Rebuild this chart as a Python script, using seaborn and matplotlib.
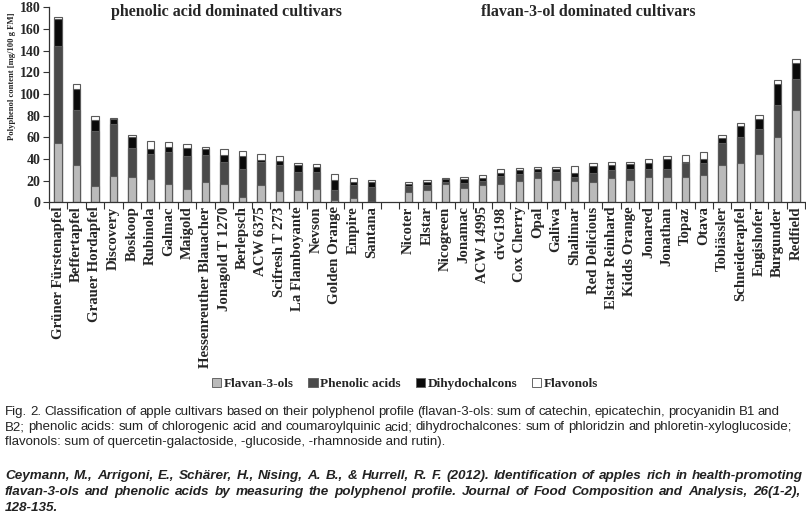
import matplotlib
matplotlib.use("Agg")
import matplotlib.pyplot as plt
from matplotlib.patches import Patch
import seaborn as sns
import pandas as pd
import numpy as np

left_cultivars = ["Grüner Fürstenapfel", "Beffertapfel", "Grauer Hordapfel", "Discovery", "Boskoop",
                  "Rubinola", "Galmac", "Maigold", "Hessenreuther Blauacher", "Jonagold T 1270",
                  "Berlepsch", "ACW 6375", "Scifresh T 273", "La Flamboyante", "Nevson",
                  "Golden Orange", "Empire", "Santana"]
right_cultivars = ["Nicoter", "Elstar", "Nicogreen", "Jonamac", "ACW 14995", "civG198", "Cox Cherry",
                   "Opal", "Galiwa", "Shalimar", "Red Delicious", "Elstar Reinhard", "Kidds Orange",
                   "Jonared", "Jonathan", "Topaz", "Otava", "Tobiässler", "Schneiderapfel",
                   "Engishofer", "Burgunder", "Redfield"]

flavan_left = [55, 34, 15, 24.5, 23, 21.5, 16.5, 12, 19, 17, 4.5, 16, 10, 11.4, 12, 2.5, 4.3, 1]
phenolic_left = [89, 51, 51, 48, 27.5, 23, 30, 30.7, 24.7, 20, 26, 21, 24.6, 17, 15.7, 8.5, 11.7, 13.4]
dihydro_left = [25, 20, 10, 4, 10, 4.5, 4.5, 7.7, 5.5, 7, 12.5, 2, 3.7, 6, 4.6, 10, 3, 4]
flavonol_left = [2, 4.5, 3.5, 1, 1.5, 7.5, 5, 3.4, 2.2, 5.5, 4.7, 6, 4.6, 1.6, 2.7, 5.5, 3.7, 2.2]

flavan_right = [9.8, 11.4, 16.6, 13.5, 16, 17.2, 20, 22.5, 20.6, 20, 19, 22, 20.6, 23, 23, 23.7,
                25.5, 34.2, 36.6, 45, 60, 85]
phenolic_right = [5.2, 4.6, 2.4, 4.7, 3.7, 7.1, 6.2, 5.2, 7.1, 3.7, 8.3, 7.6, 9.9, 7.8, 7.8, 12.3,
                  10.8, 20.8, 23.7, 22.4, 29.8, 29]
dihydro_right = [2, 3, 2.2, 3.3, 2.5, 2.7, 3.3, 3.3, 3.3, 3.6, 6.2, 4.6, 4.6, 5.2, 9.2, 1.5,
                 3.7, 4.4, 10.5, 9.6, 19.7, 15]
flavonol_right = [1.8, 2, 1.6, 2.2, 2.8, 3.8, 2.5, 2, 2, 6.5, 3.1, 3.1, 2.4, 3.7, 2.7, 6,
                  6.2, 3.1, 2.7, 3.6, 3.5, 3.3]

series_names = ["Flavan-3-ols", "Phenolic acids", "Dihydochalcons", "Flavonols"]
series_colors = ["#bababa", "#4a4a4a", "#0a0a0a", "#ffffff"]
group_titles = ["phenolic acid dominated cultivars", "flavan-3-ol dominated cultivars"]
ylabel = "Polyphenol content [mg/100 g FM]"

caption_lines = [
    "Fig. 2. Classification of apple cultivars based on their polyphenol profile (flavan-3-ols: sum of catechin, epicatechin, procyanidin B1 and",
    "B2; phenolic acids: sum of chlorogenic acid and coumaroylquinic acid; dihydrochalcones: sum of phloridzin and phloretin-xyloglucoside;",
    "flavonols: sum of quercetin-galactoside, -glucoside, -rhamnoside and rutin).",
]
citation_lines = [
    "Ceymann, M., Arrigoni, E., Schärer, H., Nising, A. B., & Hurrell, R. F. (2012). Identification of apples rich in health-promoting",
    "flavan-3-ols and phenolic acids by measuring the polyphenol profile. Journal of Food Composition and Analysis, 26(1-2),",
    "128-135.",
]

# ---- data frame ----
cultivars = left_cultivars + right_cultivars
flavan = np.array(flavan_left + flavan_right)
phen = np.array(phenolic_left + phenolic_right)
dih = np.array(dihydro_left + dihydro_right)
flo = np.array(flavonol_left + flavonol_right)
df = pd.DataFrame({
    "cultivar": cultivars,
    "c1": flavan,
    "c2": flavan + phen,
    "c3": flavan + phen + dih,
    "c4": flavan + phen + dih + flo,
})
gap = " "
order = left_cultivars + [gap] + right_cultivars

sns.set_style("ticks")
plt.rcParams["font.family"] = ["Liberation Serif", "DejaVu Serif"]

W, H = 806, 521
fig = plt.figure(figsize=(W / 100, H / 100), dpi=100)
ax = fig.add_axes([48.8 / W, 1 - 202.3 / H, 1 - 48.8 / W - 0.001, (202.3 - 7.3) / H])

edge = "#5a5a5a"
for col, color in zip(["c4", "c3", "c2", "c1"], series_colors[::-1]):
    sns.barplot(data=df, x="cultivar", y=col, order=order, color=color, saturation=1,
                width=0.4, edgecolor=edge, linewidth=0.8, errorbar=None, ax=ax)

n = len(order)
ax.set_xlim(-0.5, n - 0.5)
ax.set_ylim(0, 180)
ax.set_yticks(np.arange(0, 181, 20))
ax.set_yticklabels([str(v) for v in range(0, 181, 20)], fontsize=10, fontweight="bold")
ax.set_xticks(np.arange(n))
ax.set_xticklabels(order, rotation=90, fontsize=10.7, fontweight="bold")
ax.tick_params(axis="x", which="major", length=0, pad=3)
ax.set_xticks(np.arange(n + 1) - 0.5, minor=True)
ax.tick_params(axis="x", which="minor", length=5, width=0.8, direction="out", color="#333")
ax.tick_params(axis="y", length=4, width=0.8, color="#333", pad=2)
ax.set_xlabel("")
ax.set_ylabel("")
for s in ["top", "right"]:
    ax.spines[s].set_visible(False)
for s in ["left", "bottom"]:
    ax.spines[s].set_color("#333")
    ax.spines[s].set_linewidth(0.9)

fig.text(12 / W, 1 - 76 / H, ylabel, rotation=90, ha="center", va="center", fontsize=6.2,
         fontweight="bold")
fig.text(226 / W, 1 - 12 / H, group_titles[0], ha="center", va="center", fontsize=11.5, fontweight="bold")
fig.text(588 / W, 1 - 12 / H, group_titles[1], ha="center", va="center", fontsize=11.5, fontweight="bold")

handles = [Patch(facecolor=c, edgecolor="#666", linewidth=0.7) for c in series_colors]
fig.legend(handles, series_names, loc="center", bbox_to_anchor=(405 / W, 1 - 384 / H), ncol=4,
           frameon=False, handlelength=0.7, handleheight=0.7, handletextpad=0.2,
           columnspacing=1.1, prop={"family": "Liberation Serif", "weight": "bold", "size": 9.5})

renderer = fig.canvas.get_renderer()

def place_line(text, y, x0, x1, justify, **kw):
    if not justify:
        fig.text(x0 / W, 1 - y / H, text, ha="left", va="center", **kw)
        return
    words = text.split(" ")
    objs = [fig.text(0, 0, w, ha="left", va="center", **kw) for w in words]
    widths = [o.get_window_extent(renderer).width for o in objs]
    g = (x1 - x0 - sum(widths)) / (len(words) - 1)
    x = x0
    for o, w in zip(objs, widths):
        o.set_position((x / W, 1 - y / H))
        x += w + g

cap_kw = dict(family=["Liberation Sans", "DejaVu Sans"], fontsize=9.5, color="#222")
place_line(caption_lines[0], 412, 5, 780, True, **cap_kw)
place_line(caption_lines[1], 427, 5, 792, True, **cap_kw)
place_line(caption_lines[2], 442, 5, 0, False, **cap_kw)
cit_kw = dict(family=["Liberation Sans", "DejaVu Sans"], fontsize=9.7, color="#222",
              style="italic", weight="bold")
place_line(citation_lines[0], 476, 5, 803, True, **cit_kw)
place_line(citation_lines[1], 492, 5, 800, True, **cit_kw)
place_line(citation_lines[2], 508, 5, 0, False, **cit_kw)

fig.savefig("out.png", dpi=100)
